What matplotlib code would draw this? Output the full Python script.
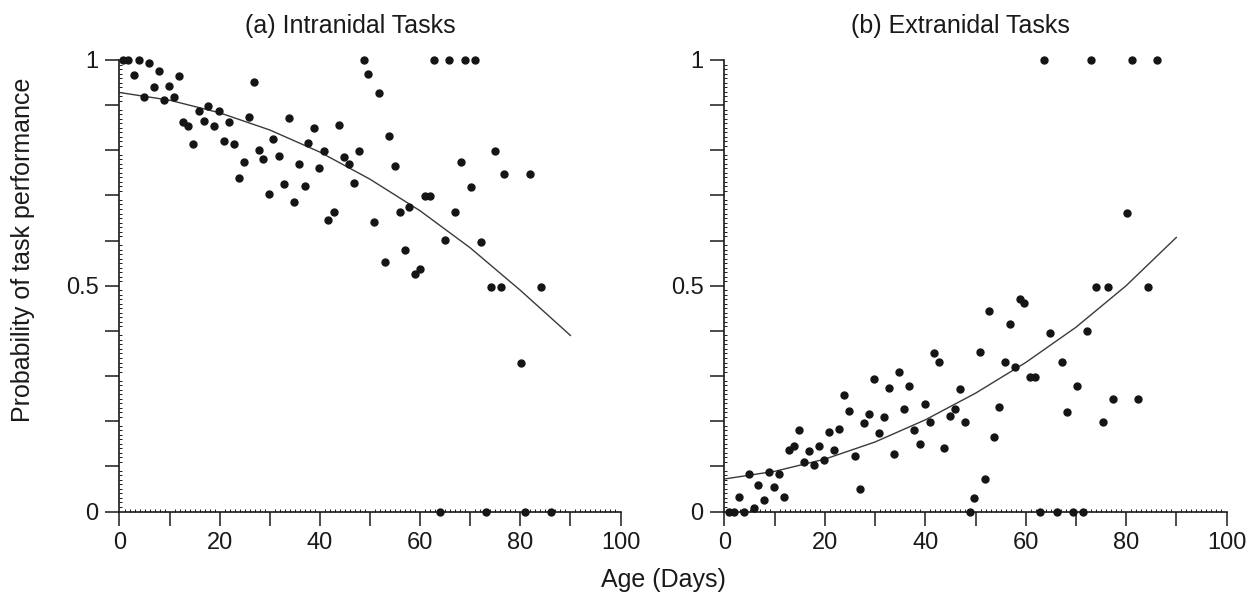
import numpy as np
import matplotlib
matplotlib.use("Agg")
import matplotlib.pyplot as plt
from matplotlib.ticker import MultipleLocator, FuncFormatter

plt.rcParams["font.family"] = ["Liberation Sans", "DejaVu Sans"]

# ── Data ──────────────────────────────────────────────────────────────────────
INTRA_X = [0.7, 1.7, 3.8, 5.8, 7.8, 2.8, 11.8, 6.8, 9.8, 26.8, 4.8, 8.8, 10.8,
           15.9, 17.7, 19.8, 12.7, 13.7, 16.8, 18.8, 21.8, 25.9, 33.9, 38.8,
           43.8, 14.7, 20.8, 22.8, 30.7, 37.7, 40.8, 44.8, 45.8, 47.9, 27.8,
           28.7, 31.9, 24.8, 35.9, 39.8, 23.9, 32.9, 37.0, 46.8, 29.9, 34.9,
           42.8, 41.7, 48.8, 49.6, 51.8, 62.7, 65.7, 68.9, 70.9, 53.8, 54.9,
           68.1, 74.9, 76.8, 81.9, 70.1, 61.0, 61.9, 57.8, 55.9, 66.9, 50.8,
           64.9, 72.1, 56.9, 52.9, 59.0, 59.9, 74.2, 76.1, 84.1, 80.1, 63.9,
           73.2, 81.0, 86.1]
INTRA_Y = [1.0, 1.0, 1.0, 0.994, 0.976, 0.967, 0.965, 0.94, 0.943, 0.951,
           0.917, 0.911, 0.917, 0.888, 0.899, 0.887, 0.862, 0.854, 0.865,
           0.854, 0.862, 0.873, 0.871, 0.849, 0.857, 0.815, 0.821, 0.814,
           0.825, 0.817, 0.798, 0.786, 0.769, 0.798, 0.800, 0.780, 0.788,
           0.775, 0.769, 0.761, 0.739, 0.725, 0.721, 0.727, 0.703, 0.686,
           0.664, 0.645, 1.0, 0.97, 0.928, 1.0, 1.0, 1.0, 1.0, 0.831, 0.765,
           0.775, 0.798, 0.747, 0.747, 0.719, 0.698, 0.698, 0.675, 0.663,
           0.663, 0.641, 0.601, 0.597, 0.580, 0.553, 0.525, 0.536, 0.497,
           0.497, 0.497, 0.330, 0.0, 0.0, 0.0, 0.0]

EXTRA_X = [0.8, 1.8, 3.9, 5.9, 48.9, 62.8, 66.2, 69.5, 71.5,
           2.9, 4.9, 6.7, 7.9, 8.9, 9.9, 10.9, 11.9, 12.8, 13.8, 14.8, 15.8,
           16.9, 17.9, 18.9, 19.9, 20.9, 21.9, 22.9, 23.9, 24.9, 25.9, 26.9,
           27.8, 28.8, 29.8, 30.8, 31.8, 32.8, 33.8, 34.8, 35.8, 36.8, 37.8,
           38.9, 39.9, 40.9, 41.8, 42.8, 43.8, 44.9, 45.9, 46.9, 47.9, 49.8,
           51.8, 53.7, 54.7, 50.8, 52.7, 56.9, 55.9, 57.9, 58.9, 59.7, 60.9,
           61.9, 64.8, 67.3, 68.3, 70.3, 72.2, 74.1, 76.3, 75.3, 77.3, 82.4,
           84.4, 80.2, 63.7, 73.1, 81.1, 86.2]
EXTRA_Y = [0.0, 0.0, 0.0, 0.008, 0.0, 0.0, 0.0, 0.0, 0.0,
           0.033, 0.082, 0.059, 0.026, 0.087, 0.055, 0.082, 0.033, 0.136,
           0.144, 0.181, 0.110, 0.134, 0.102, 0.144, 0.114, 0.177, 0.136,
           0.183, 0.258, 0.223, 0.124, 0.049, 0.197, 0.216, 0.293, 0.173,
           0.209, 0.273, 0.127, 0.310, 0.227, 0.278, 0.181, 0.150, 0.238,
           0.199, 0.351, 0.332, 0.140, 0.212, 0.227, 0.271, 0.199, 0.029,
           0.071, 0.166, 0.232, 0.353, 0.443, 0.416, 0.332, 0.320, 0.470,
           0.462, 0.299, 0.299, 0.395, 0.332, 0.220, 0.277, 0.399, 0.498,
           0.498, 0.199, 0.249, 0.249, 0.498, 0.662, 1.0, 1.0, 1.0, 1.0]

# fitted curves, read every 10 days
FIT_X = [0, 10, 20, 30, 40, 50, 60, 70, 80, 90]
INTRA_FIT = [0.928, 0.911, 0.883, 0.845, 0.796, 0.736, 0.666, 0.584, 0.490, 0.390]
EXTRA_FIT = [0.072, 0.089, 0.116, 0.154, 0.203, 0.262, 0.330, 0.408, 0.500, 0.607]

TITLES = ["(a) Intranidal Tasks", "(b) Extranidal Tasks"]
FS = 17
W, H = 1251, 606

fig = plt.figure(figsize=(W / 100, H / 100), dpi=100)
ax_a = fig.add_axes([119.5 / W, 1 - 511.5 / H, 501 / W, 451.5 / H])
ax_b = fig.add_axes([724.5 / W, 1 - 511.5 / H, 502 / W, 451.5 / H])


def fmt_x(v, pos):
    return f"{v:.0f}" if round(v) % 20 == 0 else ""


def fmt_y(v, pos):
    if abs(v) < 1e-6:
        return "0"
    if abs(v - 0.5) < 1e-6:
        return "0.5"
    if abs(v - 1) < 1e-6:
        return "1"
    return ""


for ax, xs, ys, fit in [(ax_a, INTRA_X, INTRA_Y, INTRA_FIT),
                        (ax_b, EXTRA_X, EXTRA_Y, EXTRA_FIT)]:
    ax.plot(FIT_X, fit, color="#3a3a3a", lw=1.0, zorder=2)
    ax.plot(xs, ys, ls="none", marker="o", ms=5, color="#151515",
            mec="#151515", clip_on=False, zorder=3)
    ax.set_xlim(0, 100)
    ax.set_ylim(0, 1)
    for s in ("top", "right"):
        ax.spines[s].set_visible(False)
    for s in ("left", "bottom"):
        ax.spines[s].set_linewidth(1.2)
        ax.spines[s].set_color("#1a1a1a")

    ax.xaxis.set_major_locator(MultipleLocator(10))
    ax.xaxis.set_minor_locator(MultipleLocator(1))
    ax.yaxis.set_major_locator(MultipleLocator(0.1))
    ax.yaxis.set_minor_locator(MultipleLocator(0.01))
    ax.xaxis.set_major_formatter(FuncFormatter(fmt_x))
    ax.yaxis.set_major_formatter(FuncFormatter(fmt_y))
    ax.tick_params(which="major", direction="out", length=5, width=1.1,
                   pad=10, labelsize=FS, colors="#1a1a1a")
    ax.tick_params(which="minor", direction="in", length=2.5, width=0.7,
                   colors="#1a1a1a")

    # longer ticks at the labelled / end positions
    for t in ax.xaxis.get_major_ticks():
        if round(t.get_loc()) in (0, 50, 100):
            t.tick1line.set_markersize(10)
    for t in ax.yaxis.get_major_ticks():
        if round(t.get_loc() * 10) in (0, 5, 10):
            t.tick1line.set_markersize(10)

fig.text(350 / W, 1 - 26 / H, TITLES[0], ha="center", va="center",
         fontsize=FS + 1, color="#1a1a1a")
fig.text(960 / W, 1 - 26 / H, TITLES[1], ha="center", va="center",
         fontsize=FS + 1, color="#1a1a1a")
fig.text(23 / W, 1 - 250 / H, "Probability of task performance",
         rotation=90, ha="center", va="center", fontsize=FS + 1,
         color="#1a1a1a")
fig.text(663 / W, 1 - 580 / H, "Age (Days)", ha="center", va="center",
         fontsize=FS + 1, color="#1a1a1a")

fig.savefig("out.png", dpi=100, facecolor="white")
